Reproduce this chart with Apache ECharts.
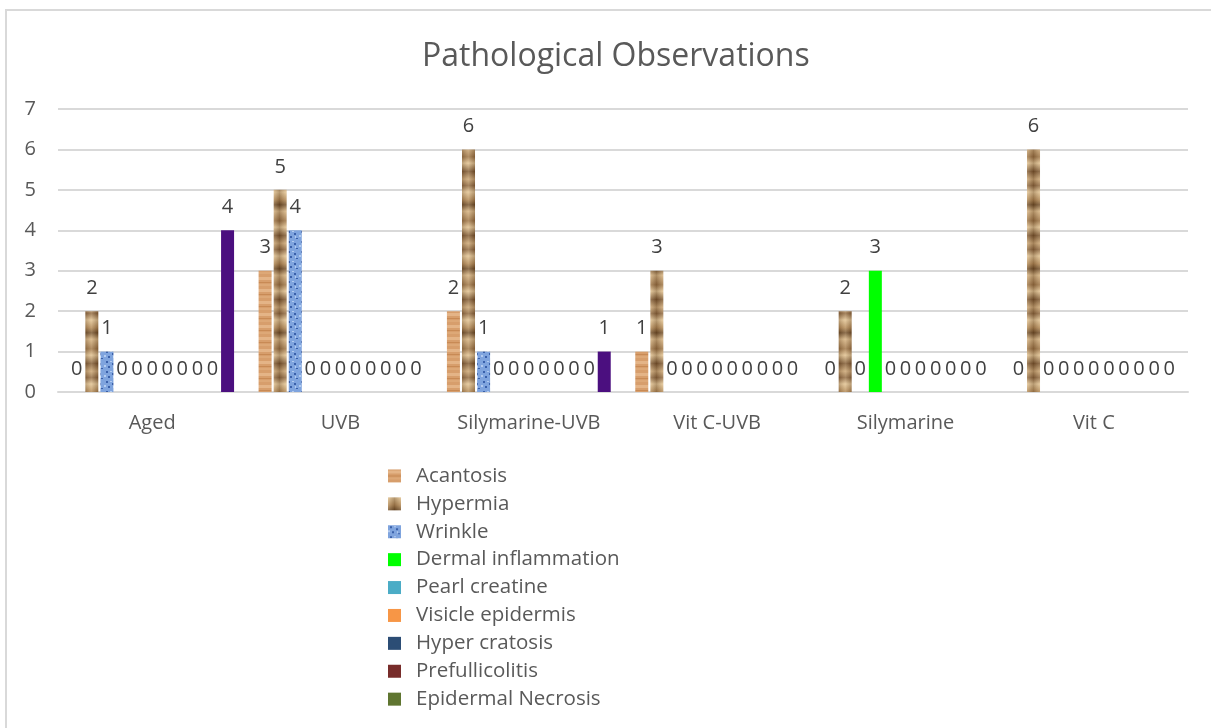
<!DOCTYPE html>
<html>
<head>
<meta charset="utf-8">
<script src="https://cdn.jsdelivr.net/npm/echarts@6/dist/echarts.min.js"></script>
<style>
  html, body { margin: 0; padding: 0; background: #fff; }
  #chart { width: 1211px; height: 728px; }
</style>
</head>
<body>
<div id="chart"></div>
<script>
// chart data
const categories = ['Aged', 'UVB', 'Silymarine-UVB', 'Vit C-UVB', 'Silymarine', 'Vit C'];
const acantosis      = [0, 3, 2, 1, 0, 0];
const hypermia       = [2, 5, 6, 3, 2, 6];
const wrinkle        = [1, 4, 1, 0, 0, 0];
const dermalInflam   = [0, 0, 0, 0, 3, 0];
const pearlCreatine  = [0, 0, 0, 0, 0, 0];
const visicleEpi     = [0, 0, 0, 0, 0, 0];
const hyperCratosis  = [0, 0, 0, 0, 0, 0];
const prefullicolitis = [0, 0, 0, 0, 0, 0];
const epiNecrosis    = [0, 0, 0, 0, 0, 0];
const series10       = [0, 0, 0, 0, 0, 0];
const series11       = [4, 0, 1, 0, 0, 0];
const yTicks = [0, 1, 2, 3, 4, 5, 6, 7];

const legendNames = ['Acantosis', 'Hypermia', 'Wrinkle', 'Dermal inflammation', 'Pearl creatine',
  'Visicle epidermis', 'Hyper cratosis', 'Prefullicolitis', 'Epidermal Necrosis'];

// small texture canvases for the textured fills
const makeCanvas = (w, h, draw) => {
  const c = document.createElement('canvas');
  c.width = w; c.height = h;
  draw(c.getContext('2d'), w, h);
  return c;
};

const woodTex = makeCanvas(13, 12, (ctx, w, h) => {
  ctx.fillStyle = '#D79E6C'; ctx.fillRect(0, 0, w, h);
  ctx.fillStyle = '#E4B487'; ctx.fillRect(0, 1, w, 3);
  ctx.fillStyle = '#C88A55'; ctx.fillRect(0, 6, w, 1);
  ctx.fillStyle = '#DDA877'; ctx.fillRect(0, 8, w, 2);
});

// crumpled paper look: vertical bands of tan and brown
const paperTex = makeCanvas(13, 64, (ctx, w, h) => {
  const g = ctx.createLinearGradient(0, 0, 0, h);
  g.addColorStop(0.00, '#E2C497');
  g.addColorStop(0.12, '#B08756');
  g.addColorStop(0.20, '#6E4C2A');
  g.addColorStop(0.30, '#D4B283');
  g.addColorStop(0.45, '#9A7145');
  g.addColorStop(0.55, '#E0C294');
  g.addColorStop(0.68, '#7A5531');
  g.addColorStop(0.80, '#C9A475');
  g.addColorStop(0.90, '#8C6640');
  g.addColorStop(1.00, '#E2C497');
  ctx.fillStyle = g; ctx.fillRect(0, 0, w, h);
  const s = ctx.createLinearGradient(0, 0, w, 0);
  s.addColorStop(0, 'rgba(255,240,210,0.25)');
  s.addColorStop(0.5, 'rgba(60,35,10,0.25)');
  s.addColorStop(1, 'rgba(255,240,210,0.2)');
  ctx.fillStyle = s; ctx.fillRect(0, 0, w, h);
});

const blueTex = makeCanvas(13, 10, (ctx, w, h) => {
  ctx.fillStyle = '#7FA4DE'; ctx.fillRect(0, 0, w, h);
  ctx.fillStyle = '#3A60AA';
  ctx.fillRect(2, 1, 2, 2); ctx.fillRect(8, 3, 2, 2); ctx.fillRect(4, 6, 2, 2); ctx.fillRect(10, 8, 2, 1);
  ctx.fillStyle = '#B3CBF0';
  ctx.fillRect(6, 1, 2, 1); ctx.fillRect(0, 5, 2, 2); ctx.fillRect(9, 6, 1, 2);
});

const tex = (img) => ({ image: img, repeat: 'repeat' });

const font = '"Open Sans", Lato, sans-serif';

const seriesDefs = [
  { name: 'Acantosis', data: acantosis, color: tex(woodTex) },
  { name: 'Hypermia', data: hypermia, color: tex(paperTex) },
  { name: 'Wrinkle', data: wrinkle, color: tex(blueTex) },
  { name: 'Dermal inflammation', data: dermalInflam, color: '#00FF00' },
  { name: 'Pearl creatine', data: pearlCreatine, color: '#4BACC6' },
  { name: 'Visicle epidermis', data: visicleEpi, color: '#F79646' },
  { name: 'Hyper cratosis', data: hyperCratosis, color: '#2C4D75' },
  { name: 'Prefullicolitis', data: prefullicolitis, color: '#772C2A' },
  { name: 'Epidermal Necrosis', data: epiNecrosis, color: '#5F7530' },
  { name: 'Series 10', data: series10, color: '#4F81BD' },
  { name: 'Series 11', data: series11, color: '#4B0F7F' }
];

const chart = echarts.init(document.getElementById('chart'), null, { renderer: 'canvas' });

chart.setOption({
  backgroundColor: '#fff',
  animation: false,
  textStyle: { fontFamily: font },
  graphic: [{
    type: 'rect',
    shape: { x: 6, y: 10, width: 1230, height: 740 },
    style: { fill: 'none', stroke: '#D9D9D9', lineWidth: 2 },
    silent: true
  }],
  title: {
    text: 'Pathological Observations',
    left: 417,
    top: 36,
    textStyle: { fontFamily: font, fontWeight: 'normal', fontSize: 32, color: '#595959' }
  },
  legend: {
    data: legendNames,
    orient: 'vertical',
    left: 383,
    top: 460,
    itemWidth: 13,
    itemHeight: 13,
    itemGap: 6,
    icon: 'rect',
    textStyle: { fontFamily: font, fontSize: 20.5, color: '#595959', lineHeight: 21.9, padding: [0, 0, 0, 10] }
  },
  grid: { left: 58, right: 23, top: 109, bottom: 336, containLabel: false },
  xAxis: {
    type: 'category',
    data: categories,
    axisLine: { lineStyle: { color: '#D9D9D9', width: 2 } },
    axisTick: { show: false },
    axisLabel: { fontFamily: font, fontSize: 20, color: '#595959', margin: 21 }
  },
  yAxis: {
    type: 'value',
    min: yTicks[0],
    max: yTicks[yTicks.length - 1],
    interval: 1,
    axisLine: { show: false },
    axisTick: { show: false },
    axisLabel: { fontFamily: font, fontSize: 20, color: '#595959', margin: 22 },
    splitLine: { lineStyle: { color: '#D9D9D9', width: 2 } }
  },
  series: seriesDefs.map(s => ({
    name: s.name,
    type: 'bar',
    data: s.data,
    barWidth: 13,
    barGap: '16%',
    itemStyle: { color: s.color },
    label: {
      show: true,
      position: 'top',
      distance: 13,
      fontFamily: font,
      fontSize: 20,
      color: '#404040'
    }
  }))
});
</script>
</body>
</html>
